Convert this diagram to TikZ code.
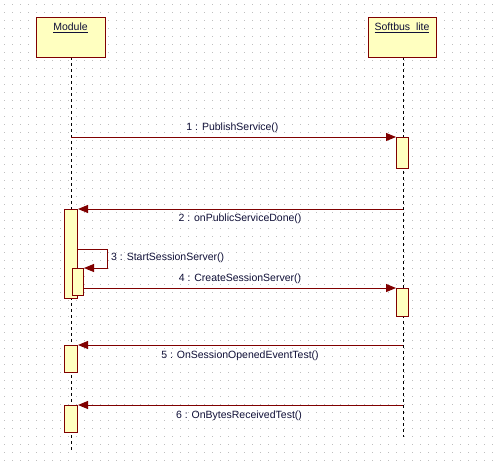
\documentclass[tikz,border=0pt]{standalone}
\usepackage{fontspec}
\setmainfont{Liberation Sans}
\usetikzlibrary{arrows.meta}
\definecolor{dred}{RGB}{128,0,0}
\definecolor{lyel}{RGB}{255,255,192}
\definecolor{gdot}{RGB}{190,190,190}
\definecolor{txt}{RGB}{16,16,56}
\tikzset{
  obj/.style={draw=dred,fill=lyel,line width=1pt,minimum width=69pt,minimum height=40pt,anchor=north west,inner sep=0pt},
  act/.style={draw=dred,fill=lyel,line width=1pt,anchor=north west,inner sep=0pt},
  life/.style={line width=1pt,dash pattern=on 3pt off 3pt,black},
  msg/.style={draw=dred,line width=1pt,-{Triangle[length=10pt,width=8pt]},dred},
  lbl/.style={font=\fontsize{10.5}{12}\selectfont,text=txt,inner sep=0pt}
}
\begin{document}
\begin{tikzpicture}[x=1pt,y=-1pt]
\useasboundingbox[fill=white] (0,0) rectangle (498,463);
% dotted grid
\foreach \i in {0,...,61}{
  \foreach \j in {0,...,57}{
    \fill[gdot] (4.5+8*\i-0.5,4.5+8*\j-0.5) rectangle ++(1,1);
  }
}
% lifelines
\coordinate (mtop) at (71,57);
\coordinate (mbot) at (71,450);
\coordinate (stop) at (403,57);
\coordinate (sbot) at (403,437);
\draw[life] (mtop) -- (mbot);
\draw[life] (stop) -- (sbot);
% objects
\node[obj] (module) at (36,17) {};
\node[lbl,anchor=center] (modlbl) at (70.5,28) {\underline{Module}};
\node[obj,minimum width=68pt] (softbus) at (368,17) {};
\node[lbl,anchor=center] (sblbl) at (402,28) {\underline{Softbus\ \ lite}};
% activations
\node[act,minimum width=12pt,minimum height=31pt] (s1) at (396,137) {};
\node[act,minimum width=13pt,minimum height=89pt] (m2) at (64,209) {};
\node[act,minimum width=11.5pt,minimum height=27pt] (m3) at (71.5,268) {};
\node[act,minimum width=12pt,minimum height=28pt] (s4) at (396,288) {};
\node[act,minimum width=13pt,minimum height=27pt] (m5) at (64,345) {};
\node[act,minimum width=13pt,minimum height=27pt] (m6) at (64,405) {};
% message coordinates
\coordinate (m1from) at (71,137);
\coordinate (m2from) at (403,209);
\coordinate (m3from) at (77,249);
\coordinate (m3a) at (107,249);
\coordinate (m3b) at (107,268);
\coordinate (m4from) at (83,288);
\coordinate (m5from) at (403,345);
\coordinate (m6from) at (403,405);
% messages
\draw[msg] (m1from) -- (s1.north west);
\draw[msg] (m2from) -- (m2.north east);
\draw[msg] (m3from) -- (m3a) -- (m3b) -- (m3.north east);
\draw[msg] (m4from) -- (s4.north west);
\draw[msg] (m5from) -- (m5.north east);
\draw[msg] (m6from) -- (m6.north east);
% labels
\node[lbl] (l1) at (232.5,128) {1 : PublishService()};
\node[lbl] (l2) at (240,219) {2 : onPublicServiceDone()};
\node[lbl,anchor=west] (l3) at (111,258) {3 : StartSessionServer()};
\node[lbl] (l4) at (240,279) {4 : CreateSessionServer()};
\node[lbl] (l5) at (240,356) {5 : OnSessionOpenedEventTest()};
\node[lbl] (l6) at (239,416) {6 : OnBytesReceivedTest()};
\end{tikzpicture}
\end{document}
